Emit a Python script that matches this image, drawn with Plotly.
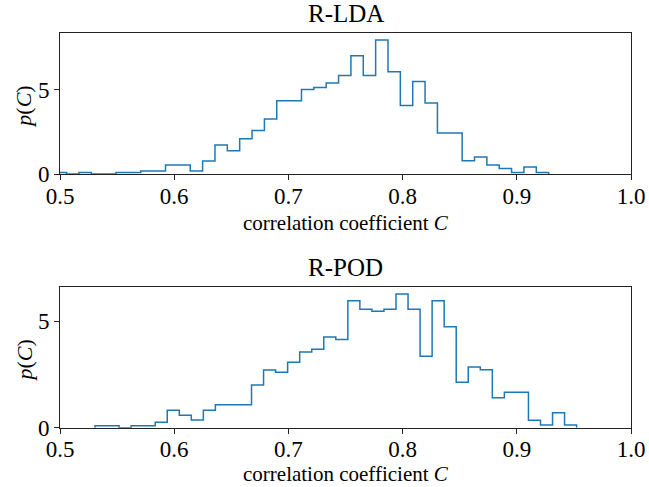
import plotly.graph_objects as go

# ---- data ----
lda_start = 0.49499
lda_width = 0.010823
lda_density = [0.09, 0.0, 0.09, 0.0, 0.0, 0.09, 0.09, 0.18, 0.18, 0.54,
               0.54, 0.18, 0.77, 1.71, 1.37, 2.08, 2.58, 3.26, 4.33, 4.33,
               5.00, 5.12, 5.38, 5.83, 7.00, 5.83, 7.93, 6.05, 4.05, 5.48,
               4.20, 2.42, 2.42, 0.79, 1.01, 0.54, 0.32, 0.09, 0.42, 0.09]

pod_start = 0.53065
pod_width = 0.010543
pod_density = [0.09, 0.09, 0.0, 0.09, 0.09, 0.25, 0.82, 0.58, 0.36, 0.82,
               1.08, 1.08, 1.08, 2.00, 2.70, 2.60, 3.07, 3.55, 3.68, 4.25,
               4.14, 5.95, 5.56, 5.46, 5.56, 6.27, 5.56, 3.35, 5.95, 4.73,
               2.13, 2.85, 2.72, 1.41, 1.66, 1.66, 0.35, 0.13, 0.70, 0.13]

titles = ["R-LDA", "R-POD"]
x_ticks = [0.5, 0.6, 0.7, 0.8, 0.9, 1.0]
x_tick_labels = ["0.5", "0.6", "0.7", "0.8", "0.9", "1.0"]
y_ticks = [0, 5]
x_label = "correlation coefficient <i>C</i>"
y_label = "<i>p</i>(<i>C</i>)"

FONT = "Liberation Serif"
W, H = 649, 487
BLUE = "#1f77b4"


def step_xy(start, width, vals):
    n = len(vals)
    edges = [start + i * width for i in range(n + 1)]
    xs = [edges[0]] + edges[:n] + [edges[n]]
    ys = [0] + list(vals) + [0]
    return xs, ys


fig = go.Figure()

# pixel geometry of the two panels
xl, xr = 60, 631
panels = [(33.3, 174.0), (287.3, 427.7)]
label_offsets = [49, 46]
datasets = [(lda_start, lda_width, lda_density), (pod_start, pod_width, pod_density)]

for i, ((top, bot), (s, w, d)) in enumerate(zip(panels, datasets)):
    xs, ys = step_xy(s, w, d)
    ax = "" if i == 0 else "2"
    fig.add_trace(go.Scatter(x=xs, y=ys, mode="lines", line_shape="hv",
                             line=dict(color=BLUE, width=1.5),
                             xaxis="x" + ax, yaxis="y" + ax,
                             showlegend=False, hoverinfo="skip"))
    axis_common = dict(showline=True, mirror=True, linecolor="#222", linewidth=1,
                       ticks="outside", ticklen=5, tickwidth=1, tickcolor="#222",
                       showgrid=False, zeroline=False, automargin=False,
                       tickfont=dict(family=FONT, size=23, color="black"))
    fig.layout["xaxis" + ax] = dict(
        axis_common, domain=[xl / W, xr / W], range=[0.5, 1.0],
        tickvals=x_ticks, ticktext=x_tick_labels, ticklabelstandoff=-4,
        anchor="y" + ax)
    fig.layout["yaxis" + ax] = dict(
        axis_common, domain=[1 - bot / H, 1 - top / H],
        range=[0, 1.05 * max(d)], tickvals=y_ticks,
        ticktext=[str(t) for t in y_ticks],
        anchor="x" + ax)
    cx = (xl + xr) / 2 / W
    # title
    fig.add_annotation(text=titles[i], x=cx, y=1 - (top - 20) / H,
                       xref="paper", yref="paper", showarrow=False,
                       xanchor="center", yanchor="middle",
                       font=dict(family=FONT, size=25, color="black"))
    # x label
    fig.add_annotation(text=x_label, x=cx, y=1 - (bot + label_offsets[i]) / H,
                       xref="paper", yref="paper", showarrow=False,
                       xanchor="center", yanchor="middle",
                       font=dict(family=FONT, size=21, color="black"))
    # y label
    fig.add_annotation(text=y_label, x=24 / W, y=1 - ((top + bot) / 2 + 3) / H,
                       xref="paper", yref="paper", showarrow=False,
                       xanchor="center", yanchor="middle", textangle=-90,
                       font=dict(family=FONT, size=22, color="black"))

fig.update_layout(width=W, height=H, margin=dict(l=0, r=0, t=0, b=0, autoexpand=False),
                  paper_bgcolor="white", plot_bgcolor="white")

fig.write_html("out.html", config={"displayModeBar": False},
               post_script="document.body.style.margin='0';document.body.style.overflow='hidden';")
